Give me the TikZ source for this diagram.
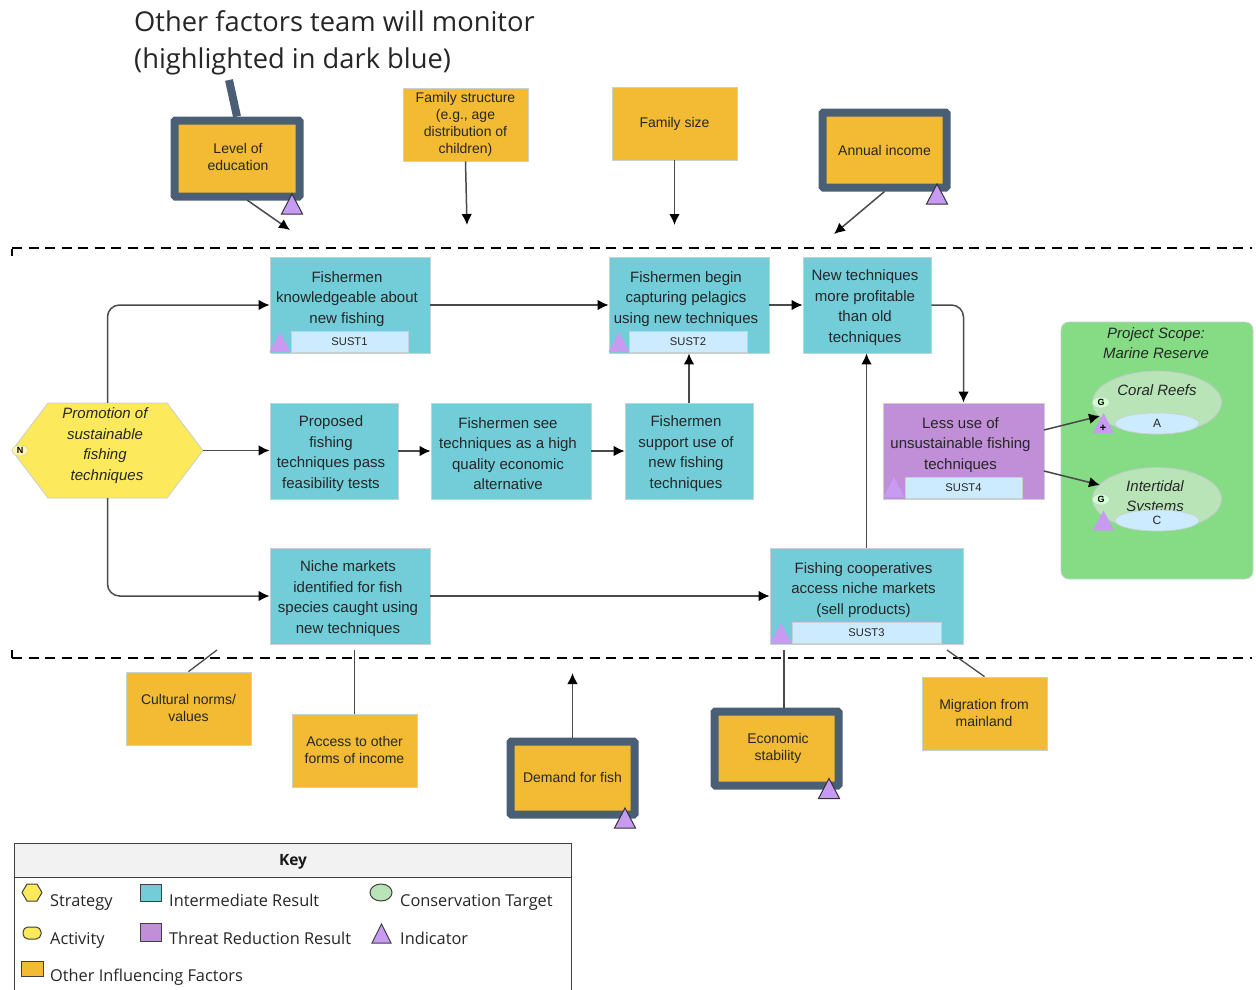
\documentclass[tikz,border=0pt]{standalone}
\usepackage{fontspec}
\setmainfont{Liberation Sans}
\newfontfamily\keyfont{Open Sans}
\usetikzlibrary{arrows.meta,calc,shapes.geometric}
\definecolor{teal}{HTML}{72CDD9}
\definecolor{hexy}{HTML}{FCE95C}
\definecolor{orng}{HTML}{F3BB33}
\definecolor{purp}{HTML}{C08FD8}
\definecolor{grn}{HTML}{85DC85}
\definecolor{ell}{HTML}{B8E4B8}
\definecolor{lblue}{HTML}{CDEBFF}
\definecolor{tria}{HTML}{C79BF2}
\definecolor{navy}{HTML}{4A5F75}
\definecolor{edge}{HTML}{C8D0D0}
\definecolor{linec}{HTML}{4A4A4A}
\tikzset{
 result/.style={draw=edge,line width=.8pt,inner sep=0pt},
 ir/.style={result,fill=teal},
 trr/.style={result,fill=purp},
 rtext/.style={text=black!85,align=center,inner sep=0pt,xshift=-3pt,yshift=-2.5pt,font=\fontsize{15}{20.5}\selectfont},
 factor/.style={draw=edge,line width=.8pt,fill=orng,inner sep=0pt,minimum width=125pt,minimum height=73pt},
 hifactor/.style={factor,draw=navy,line width=8pt,rounded corners=1pt},
 ftext/.style={text=black!85,align=center,inner sep=0pt,font=\fontsize{14}{17}\selectfont},
 tag/.style={draw=edge,line width=.8pt,fill=lblue,text=black!85,inner sep=0pt,font=\fontsize{11.2}{14}\selectfont},
 conn/.style={draw=linec,line width=1.5pt,-{Latex[length=11pt,width=10.5pt,black]}},
 plainline/.style={draw=linec,line width=1.3pt},
 rnd/.style={rounded corners=12pt},
 scopeline/.style={draw=black,line width=2pt,dash pattern=on 10pt off 6.5pt},
 tri/.style={fill=tria,draw=black!80,line width=1pt},
 softtri/.style={fill=tria,draw=none},
 target/.style={ellipse,draw=edge!90!gray,line width=.8pt,fill=ell,inner sep=0pt,minimum width=129pt,minimum height=63pt},
 goal/.style={ellipse,draw=edge,line width=.6pt,fill=lblue,text=black!85,inner sep=0pt,minimum width=84pt,minimum height=21pt,font=\fontsize{12}{14}\selectfont},
 badge/.style={ellipse,draw=edge,line width=.5pt,inner sep=0pt,minimum width=17pt,minimum height=11pt,font=\bfseries\fontsize{9}{10}\selectfont},
 keytext/.style={anchor=base west,inner sep=0pt,text=black!85,font=\keyfont\fontsize{16.35}{18}\selectfont},
 keyicon/.style={draw=black!75,line width=1pt},
}
\newcommand{\triup}[3][tri]{\path[#1] (#2,#3) -- ++(10.5,20) -- ++(-21,0) -- cycle;}
\begin{document}
\begin{tikzpicture}[x=1pt,y=-1pt]
\useasboundingbox[fill=white] (0,0) rectangle (1256,990);

% title
\node[anchor=west,inner sep=0pt,align=left,text=black!85,font=\keyfont\fontsize{27.3}{37.5}\selectfont] (title) at (134,43) {Other factors team will monitor\\(highlighted in dark blue)};
\coordinate (calloutend) at (229,80);

% scope lines
\draw[scopeline] (12,248) -- (1252,248);
\draw[scopeline] (12,658) -- (1252,658);
\draw[black,line width=1.2pt] (12,249) -- (12,256);
\draw[black,line width=1.2pt] (12,650) -- (12,658);

% factors top
\node[hifactor,minimum width=125pt,minimum height=76pt] (edu) at (237,158.5) {};
\node[ftext] (edut) at (238,156.5) {Level of\\education};
\node[factor] (struct) at (465.5,124.5) {};
\node[ftext] (structt) at (465.5,124.5) {Family structure\\(e.g., age\\distribution of\\children)};
\node[factor] (size) at (674.5,123.5) {};
\node[ftext] (sizet) at (674.5,123.5) {Family size};
\node[hifactor,minimum width=124pt,minimum height=75pt] (inc) at (884.5,150) {};
\node[ftext] (inct) at (884.5,150) {Annual income};
\draw[navy,line width=8pt] (calloutend) -- (edu.north -| 237,117);

% factors bottom
\node[factor] (cult) at (188.5,708.5) {};
\node[ftext] (cultt) at (188.5,707.5) {Cultural norms/\\values};
\node[factor] (acc) at (354.5,750.5) {};
\node[ftext] (acct) at (354.5,749.5) {Access to other\\forms of income};
\node[hifactor,minimum width=124pt,minimum height=73pt] (dem) at (572.5,778) {};
\node[ftext] (demt) at (572.5,777) {Demand for fish};
\node[hifactor,minimum width=124pt,minimum height=74pt] (eco) at (776.5,748.5) {};
\node[ftext] (ecot) at (778,748.5) {Economic\\stability};
\node[factor] (mig) at (984.5,713.5) {};
\node[ftext] (migt) at (984,712.5) {Migration from\\mainland};

% strategy
\path[fill=hexy,draw=edge,line width=.8pt] (12,450.5) -- (48,403) -- (167,403) -- (203,450.5) -- (167,498) -- (48,498) -- cycle;
\node[inner sep=0pt,minimum width=191pt,minimum height=95pt,align=center,text=black!85,font=\itshape\fontsize{15}{20.5}\selectfont] (hex) at (107.5,450.5) {};
\node[inner sep=0pt,align=center,text=black!85,font=\itshape\fontsize{15}{20.5}\selectfont] (hext) at (105,445.5) {Promotion of\\sustainable\\fishing\\\hspace*{4pt}techniques};
\node[badge,fill=hexy!50!white,minimum width=16pt] (nb) at (20,450.5) {N};

% results
\node[ir,minimum width=160pt,minimum height=96pt] (know) at (350,305) {};
\node[rtext] (knowt) at (know) {Fishermen\\knowledgeable about\\new fishing\\~};
\node[ir,minimum width=160pt,minimum height=96pt] (begin) at (689,305) {};
\node[rtext] (begint) at (begin) {Fishermen begin\\capturing pelagics\\using new techniques\\~};
\node[ir,minimum width=128pt,minimum height=96pt] (newt) at (867,305) {};
\node[rtext,xshift=1pt] (newtt) at (newt) {New techniques\\more profitable\\than old\\techniques};
\node[ir,minimum width=128pt,minimum height=96pt] (prop) at (334,451) {};
\node[rtext] (propt) at (prop) {Proposed\\fishing\\techniques pass\\feasibility tests};
\node[ir,minimum width=160pt,minimum height=96pt] (see) at (511,451) {};
\node[rtext] (seet) at (see) {Fishermen see\\techniques as a high\\quality economic\\alternative};
\node[ir,minimum width=128pt,minimum height=96pt] (supp) at (689,451) {};
\node[rtext] (suppt) at (supp) {Fishermen\\support use of\\new fishing\\techniques};
\node[trr,minimum width=161pt,minimum height=96pt] (less) at (963.5,451) {};
\node[rtext] (lesst) at (less) {Less use of\\unsustainable fishing\\techniques\\~};
\node[ir,minimum width=160pt,minimum height=96pt] (niche) at (350,596) {};
\node[rtext,xshift=1pt] (nichet) at (niche) {Niche markets\\identified for fish\\species caught using\\new techniques};
\node[ir,minimum width=193pt,minimum height=96pt] (coop) at (866.5,596) {};
\node[rtext] (coopt) at (coop) {Fishing cooperatives\\access niche markets\\(sell products)\\~};

% tags
\node[tag,minimum width=117pt,minimum height=21pt] (s1) at (349.5,341.5) {SUST1};
\node[tag,minimum width=118pt,minimum height=21pt] (s2) at (688,341.5) {SUST2};
\node[tag,minimum width=149pt,minimum height=21pt] (s3) at (866.5,633) {SUST3};
\node[tag,minimum width=117pt,minimum height=21pt] (s4) at (963.5,487.5) {SUST4};

% project scope
\node[draw=edge,line width=.8pt,fill=grn,rounded corners=8pt,minimum width=192pt,minimum height=257pt,inner sep=0pt] (scope) at (1157,450.5) {};
\node[inner sep=0pt,align=center,text=black!85,font=\itshape\fontsize{15}{20.5}\selectfont] (scopet) at (1156,343) {Project Scope:\\Marine Reserve};
\node[target] (coral) at (1157,402.5) {};
\node[target] (inter) at (1157,499) {};
\node[inner sep=0pt,text=black!85,font=\itshape\fontsize{15}{18}\selectfont] (coralt) at (1157,390) {Coral Reefs};
\begin{scope}
\clip (1100,470) rectangle (1215,511);
\node[inner sep=0pt,align=center,text=black!85,font=\itshape\fontsize{15}{20.5}\selectfont] (intert) at (1155,497.5) {Intertidal\\Systems};
\end{scope}
\node[goal] (ga) at (1157,423.5) {A};
\node[goal] (gc) at (1157,520.5) {C};
\node[badge,fill=green!18!white] (g1) at (1101,402.5) {G};
\node[badge,fill=green!18!white] (g2) at (1101,499.5) {G};
\triup[softtri]{1103.5}{413}
\triup[softtri]{1103.5}{510.5}
\node[inner sep=0pt,font=\bfseries\fontsize{11}{12}\selectfont] (plus) at (1103,428) {+};

% indicators
\triup{292}{194}
\triup{937}{184}
\triup{625}{808}
\triup{829}{778.5}
\triup[softtri]{280}{332}
\triup[softtri]{619}{332}
\triup[softtri]{781}{623}
\triup[softtri]{894}{477}

% connectors
\draw[conn,rnd] (hex.north) |- (know.west);
\draw[conn] (hex.east) -- (hex.east -| prop.west);
\draw[conn,rnd] (hex.south) |- (niche.west);
\draw[conn] (know.east) -- (begin.west);
\draw[conn] (begin.east) -- (newt.west);
\draw[conn,rnd] (newt.east) -| (less.north);
\draw[conn] (prop.east) -- (see.west);
\draw[conn] (see.east) -- (supp.west);
\draw[conn] (supp.north) -- (begin.south);
\draw[conn] (niche.east) -- (coop.west);
\draw[conn] (coop.north) -- (coop.north |- newt.south);
\coordinate (lessA) at (1044,430); \coordinate (lessB) at (1044,471);
\coordinate (coralin) at (1100,416); \coordinate (interin) at (1100,485);
\draw[conn] (lessA) -- (coralin);
\draw[conn] (lessB) -- (interin);

% factor connectors
\coordinate (e1) at (247,200); \coordinate (e2) at (290,230);
\draw[conn] (e1) -- (e2);
\coordinate (f2) at (467,225);
\draw[conn] (struct.south) -- (f2);
\coordinate (f3) at (674.5,225);
\draw[conn] (size.south) -- (f3);
\coordinate (f4) at (834,234);
\draw[conn] (inc.south) -- (f4);
\coordinate (d2) at (572.5,673);
\draw[conn] (dem.north) -- (d2);
\coordinate (c2) at (217,650);
\draw[plainline] (cult.north) -- (c2);
\coordinate (a2) at (354.5,650);
\draw[plainline] (acc.north) -- (a2);
\coordinate (ec1) at (784,708); \coordinate (ec2) at (784,650);
\draw[plainline] (ec1) -- (ec2);
\coordinate (m2) at (947,650);
\draw[plainline] (mig.north) -- (m2);

% key
\path[fill=black!5] (14,843) rectangle (571,877);
\draw[black!75,line width=1pt] (14,990) -- (14,843) -- (571,843) -- (571,990);
\draw[black!75,line width=1pt] (14,877) -- (571,877);
\node[inner sep=0pt,text=black!90,font=\keyfont\bfseries\fontsize{15.5}{18}\selectfont] (keyt) at (293,862) {Key};
\path[keyicon,fill=hexy] (22,892.5) -- (27,884) -- (37,884) -- (42,892.5) -- (37,901) -- (27,901) -- cycle;
\path[keyicon,fill=teal] (140,884) rectangle (161,901);
\path[keyicon,fill=ell] (381,892.5) ellipse (11pt and 8.5pt);
\path[keyicon,fill=hexy,rounded corners=5pt] (23,927) rectangle (41,939);
\path[keyicon,fill=purp] (140,923) rectangle (161,941);
\path[keyicon,fill=tria] (381.5,924) -- (391,943) -- (372,943) -- cycle;
\path[keyicon,fill=orng] (21,961) rectangle (43,976);
\node[keytext] (k1) at (50,906) {Strategy};
\node[keytext] (k2) at (169,906) {Intermediate Result};
\node[keytext] (k3) at (400,906) {Conservation Target};
\node[keytext] (k4) at (50,944) {Activity};
\node[keytext] (k5) at (169,944) {Threat Reduction Result};
\node[keytext] (k6) at (400,944) {Indicator};
\node[keytext] (k7) at (50,981) {Other Influencing Factors};
\end{tikzpicture}
\end{document}
